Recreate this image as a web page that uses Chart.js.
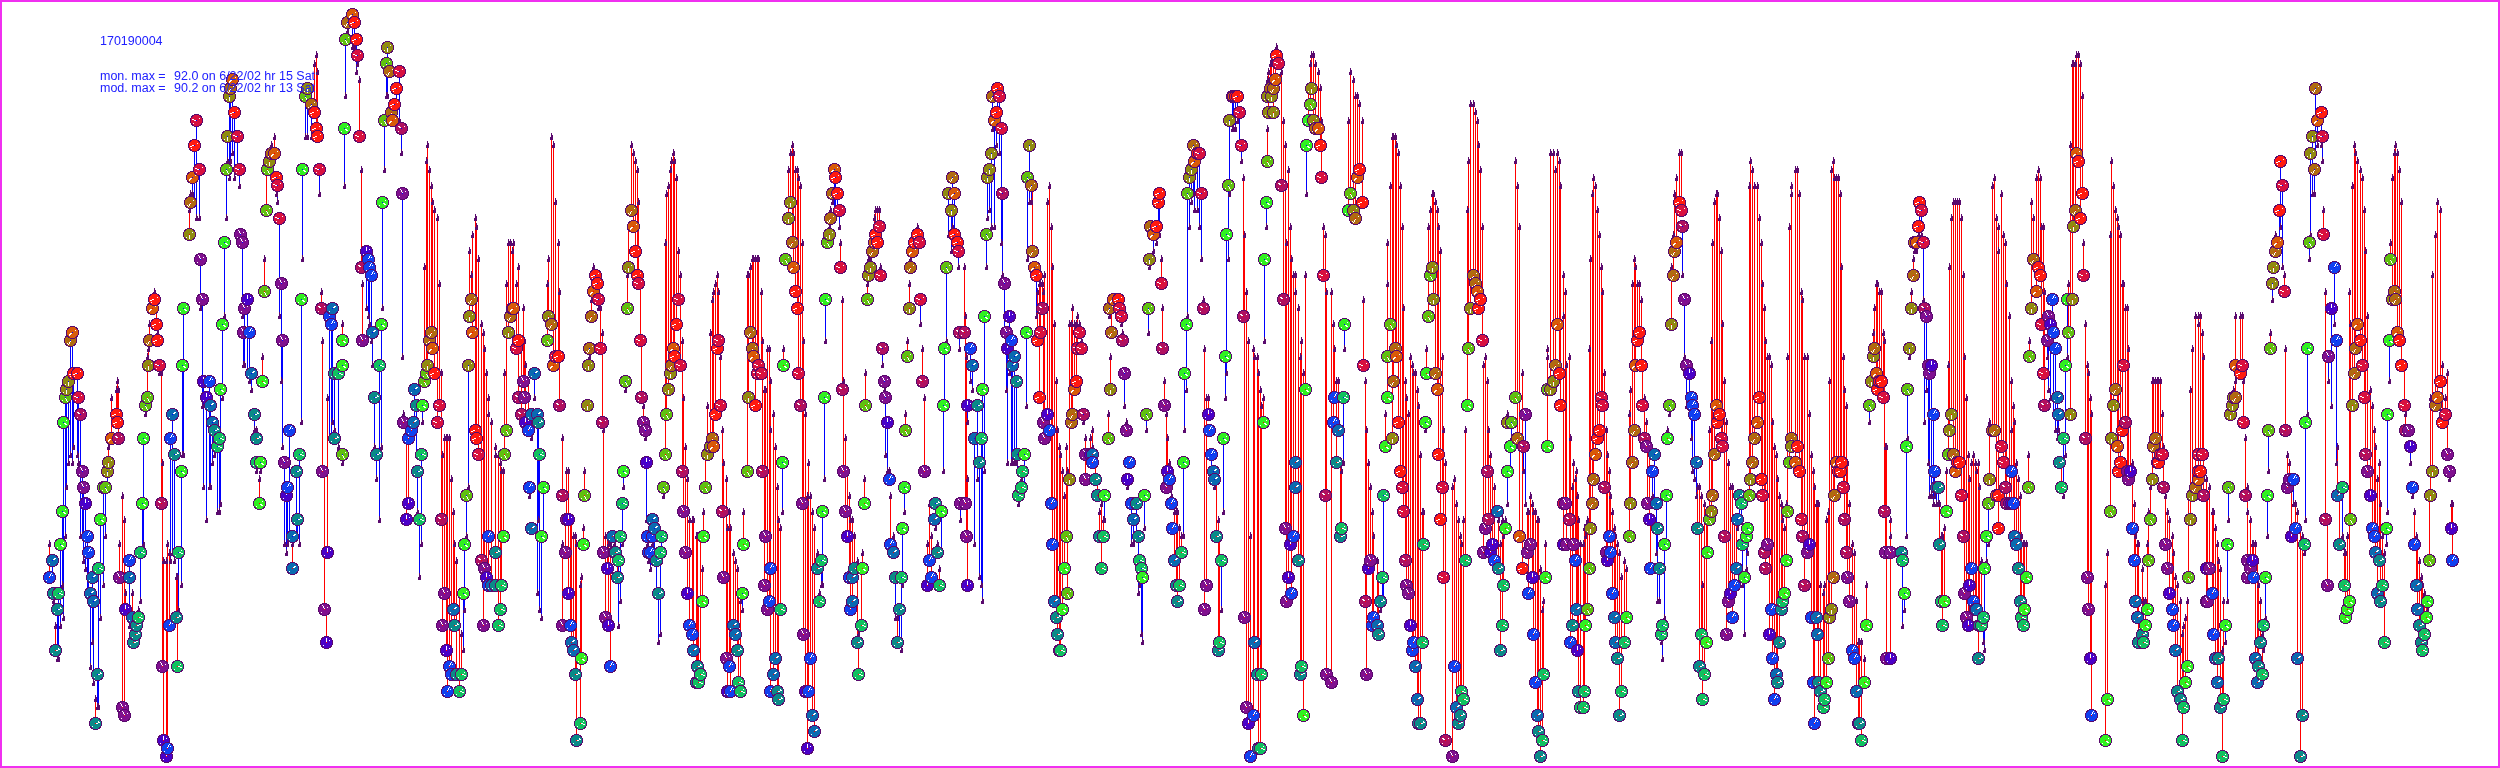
<!DOCTYPE html>
<html><head><meta charset="utf-8">
<script src="https://cdn.jsdelivr.net/npm/chart.js@4"></script>
<style>html,body{margin:0;padding:0;background:#fff}canvas{display:block}</style>
</head><body><canvas id="c" width="2500" height="768"></canvas>
<script>
const stationId="170190004";
const summaryLabels=["mon. max =","mod. max ="];
const summaryValues=["92.0 on 6/22/02 hr 15 Sat","90.2 on 6/22/02 hr 13 Sat"];

const hoursA=[55,49,52,53,58,57,60,62,63,65,
66,68,70,72,73,77,78,80,82,83,
85,87,88,92,90,93,97,95,98,100,
103,105,107,108,118,116,117,111,122,124,
119,129,129,125,132,138,136,135,133,143,
142,140,154,152,156,149,157,148,159,161,
147,145,183,182,181,178,172,170,174,176,
177,169,162,163,167,166,196,194,199,192,
190,189,200,202,203,209,206,210,212,214,
219,217,220,222,224,226,229,230,232,234,
237,227,239,240,242,244,247,249,243,251,
254,256,256,260,259,262,264,267,266,269,
271,274,276,277,279,281,282,284,286,287,
289,292,292,297,296,299,301,302,305,307,
311,314,316,317,319,321,322,327,324,326,
332,329,331,334,334,338];
const monA=[14,23,25,21,21,19,27,31,42,45,
46,47,52,53,48,48,45,43,36,34,
32,28,26,23,21,20,11,5,24,30,
34,34,36,37,40,43,42,40,7,6,
23,25,23,19,18,18,17,16,15,40,
32,26,57,56,54,52,52,49,49,32,
45,44,56,49,36,26,43,40,38,18,
12,17,12,3,2,1,79,76,73,72,
69,65,62,57,47,47,45,44,42,41,
40,39,46,54,64,73,82,83,84,80,
77,77,73,65,64,56,57,53,53,48,
43,40,37,37,32,47,58,73,68,74,
75,75,72,71,67,59,52,37,33,34,
41,28,24,30,36,38,57,73,82,83,
81,80,78,77,73,56,36,26,19,15,
56,55,54,48,40,48];
const modA=[17,27,23,20,13,13,17,22,18,28,
34,37,38,37,39,38,37,28,28,25,
24,21,20,15,12,10,7,8,7,18,
22,28,34,39,46,46,47,45,33,30,
27,18,17,21,21,19,18,17,17,27,
26,20,58,57,56,54,53,51,48,48,
50,43,38,38,22,19,26,25,25,23,
23,26,37,25,27,25,67,69,67,70,
70,68,56,44,34,34,30,34,37,38,
31,31,32,45,55,67,72,74,75,72,
73,74,71,64,55,49,48,47,49,46,
41,41,36,36,35,50,62,74,73,75,
76,77,70,69,55,47,39,27,26,27,
28,27,28,28,28,27,42,62,77,77,
77,86,87,85,70,58,52,45,36,19,
42,40,40,41,40,39];
const colA=`tbctetgggy llaorrkmpp nbbccctteg yyllmrropp pbcncetttg
gerorarlkm yygggecbtt ebpnbnkrko alppnbncct eegggylaor
klkpppnbpc ttegggyyyl aorkkpppnb bccttegg yl arrrkmpnpn cbbtte`;

const hoursB=[342,342,342,352,347,354,356,345,357,344,
359,387,386,389,399,396,394,391,392,384,
401,382,402,361,366,368,369,371,362,372,
381,379,374,376,403,413,411,408,406,408,
414,416,422,421,417,419,424,426,427,429,
431,432,434,437,439,441,444,442,446,449,
451,447,453,454,456,459,461,463,464,466,
468,469,471,472,475,476,478,481,483,484,
486,488,488,491,495,495,498,500,501,503,
504,506,508,510,513,512,518,516,523,518,
524,521,525,528,531,537,538,539,534,529,
543,531,541,547,548,551,553,555,558,559,
562,566,568,565,568,562,570,571,573,575,
581,583,584,587,588,589,591,593,595,597,
598,600,602,580,576,603,605,607,608,610,
612,614,615,617,618,620,622,623,625,627,
628,631,633,635,637,638,640,641,643,645,
646,647,648];
const monB=[52,49,38,92,91,91,89,89,87,78,
77,88,86,85,85,83,81,80,79,79,
78,69,70,61,63,62,61,60,52,53,
54,49,45,38,42,42,41,40,30,32,
46,44,44,38,36,30,47,48,49,52,
53,51,48,42,44,30,21,17,14,12,
11,9,19,17,11,9,11,21,27,33,
49,55,57,53,41,40,38,25,17,24,
23,22,28,22,26,22,17,19,22,28,
38,41,53,55,56,56,52,51,47,45,
45,43,42,41,43,43,42,38,48,34,
34,29,28,52,55,54,49,50,50,44,
33,30,30,26,21,17,17,15,14,11,
13,27,33,44,49,51,55,58,60,59,
57,51,42,5,3,26,18,24,17,12,
28,26,26,23,25,28,32,36,47,56,
61,68,66,63,60,59,52,45,42,41,
37,28,26];
const modB=[54,48,37,88,90,88,85,82,86,71,
84,82,82,86,79,80,79,81,79,73,
75,56,50,73,56,55,54,52,59,49,
39,30,39,35,43,42,42,42,40,40,
41,38,42,27,31,23,61,74,76,73,
71,69,68,67,59,48,40,38,40,40,
35,40,31,27,25,21,16,14,19,28,
34,63,60,65,67,66,62,54,53,51,
48,45,43,42,39,38,38,37,36,36,
48,59,64,64,64,63,61,59,56,56,
52,52,49,47,40,21,30,19,45,33,
28,29,18,59,62,77,76,69,64,58,
40,36,36,30,30,27,30,30,28,28,
23,29,36,44,49,50,57,61,59,58,
56,56,53,22,27,41,28,28,27,27,
28,27,28,25,17,20,27,34,46,60,
66,76,75,74,73,69,60,52,44,40,
30,27,25];
const colB=`ggyoarrykg klyakrraoy mgpmnbbbpc gettpcbbnn ctgeteyyla
aorkkmppnb bbctteeggy llaorrkmpp nbbctteeeg yylaoorkpm
pmnbcctecb gcgylaokrm mpnpnpbcct ggyllaaorr kkmetppnnb
ctttee egyy laorrkkmpp nbb`;

const hoursC=[652,654,652,650,661,660,656,658,665,666,
668,670,671,673,674,676,678,680,682,683,
685,687,689,692,693,697,700,696,698,702,
703,705,663,707,710,712,713,715,720,717,
718,722,723,726,729,727,730,733,735,737,
738,740,742,743,747,748,750,752,753,755,
758,757,761,762,765,764,767,769,770,775,
773,770,777,778,780,782,783,785,788,790,
792,793,795,797,798,800,802,803,805,808,
810,807,812,814,817,821,819,822,824,825,
840,827,829,830,834,835,832,837,839,842,
843,845,847,849,852,854,852,850,862,861,
857,858,864,865,867,882,884,885,887,889,
890,893,895,901,899,897,902,870,868,872,
874,875,877,879,880,904,905,907,909,910,
912,914,917,919,920,922,924,927,929,931,
934,935,937,939,941,943,944,946,948,951,
952,954,954,957,958,959,960];
const monC=[30,29,28,26,28,26,25,21,38,43,
46,48,49,51,50,54,57,49,36,31,
26,21,17,16,14,12,11,10,10,20,
28,34,34,38,39,40,39,43,44,51,
52,31,23,13,12,9,9,17,16,14,
10,9,21,27,36,45,53,51,50,44,
49,48,48,36,28,22,19,20,24,13,
11,9,9,8,19,37,49,62,67,69,
64,61,58,56,48,44,32,16,9,9,
13,2,6,4,24,25,20,31,45,57,
61,64,65,67,73,72,70,70,68,46,
36,31,28,23,23,24,20,19,24,17,
15,11,32,44,57,51,47,45,42,35,
27,26,23,23,19,15,29,61,60,63,
64,65,64,66,60,34,41,50,56,61,
63,64,65,64,57,47,36,22,25,23,
30,32,26,22,31,44,51,61,70,68,
72,70,65,64,63,53,32];
const modC=[27,26,25,24,25,16,21,15,64,70,
71,73,74,75,74,72,63,60,52,45,
39,35,30,30,30,28,28,28,20,24,
31,38,33,44,53,57,58,59,50,60,
58,41,37,35,31,29,29,26,25,24,
21,20,19,31,60,60,61,62,62,62,
62,62,58,52,46,46,51,51,47,39,
43,41,34,30,29,31,51,62,73,75,
76,75,73,73,72,71,64,52,43,37,
33,33,31,29,26,22,21,22,35,52,
64,65,66,68,68,67,69,68,66,57,
47,40,36,33,30,28,28,30,26,24,
25,16,35,48,59,49,46,38,36,36,
33,28,18,14,15,18,22,62,62,65,
67,68,68,68,61,31,43,52,59,62,
64,65,66,65,54,51,45,27,32,28,
30,29,27,24,26,36,44,52,65,63,
66,65,64,63,61,51,30];
const colC=`ccbbeettyy llaorrkkmp pnbbctetEg gyyllaorkr kmppbnbcct
eeggylaaor kkkmpppbbc cbtteggyll aorrkmppnb bnccteeggg
kylaorarkm ppnbctcbge tegyymppnb bctettglla orrkkgyyla
orrkkmpnbb cttegggyll aorrkmp`.replace('E','e');

const hoursD=[997,999,992,996,994,1001,991,989,987,1002,
986,1004,984,1009,1006,1011,1007,1014,1012,1016,
982,977,967,970,972,974,981,979,964,965,
966,967,1017,1024,1022,1021,1018,1029,1027,1031,
1032,1034,1036,1037,1040,1042,1039,1026,1047,1043,
1044,1049,1051,1052,1054,1056,1057,1059,1060,1062,
1064,1067,1066,1069,1072,1071,1074,1076,1077,1081,
1079,1083,1085,1090,1092,1092,1085,1095,1097,1104,
1103,1101,1099,1108,1110,1111,1109,1113,1118,1119,
1121,1122,1124,1126,1129,1127,1133,1136,1131,1144,
1138,1139,1141,1142,1146,1148,1149,1150,1153,1156,
1158,1159,1161,1162,1164,1166,1167,1169,1171,1172,
1174,1176,1177,1179,1181,1183,1184,1186,1187,1189,
1191,1193,1194,1197,1199,1201,1203,1204,1206,1208,
1209,1211,1213,1214,1216,1218,1219,1221,1223,1225,
1226,1228,1229,1232,1233,1235,1237,1239,1241,1243,
1244,1246,1248,1250,1253,1254,1257,1258,1260,1261,
1263,1264,1266,1267,1268,1267,1270];
const monD=[83,82,82,80,79,78,75,73,72,70,
65,59,55,55,53,52,51,50,49,47,
46,44,44,51,49,40,40,37,53,32,
28,22,38,38,36,34,33,76,72,71,
63,61,60,52,53,56,45,53,43,42,
40,41,32,27,20,18,16,14,14,19,
24,21,28,35,43,42,46,47,51,51,
53,43,38,38,38,37,35,35,33,33,
28,24,28,40,46,53,56,57,57,56,
55,52,48,41,37,35,30,32,32,33,
28,25,24,23,43,56,62,66,65,66,
69,70,59,51,44,34,36,35,32,29,
25,22,20,22,26,37,48,54,70,72,
73,76,74,75,75,70,56,19,22,43,
41,38,36,35,28,14,15,25,40,50,
65,71,79,82,82,82,82,80,76,55,
18,7,5,1,6,15,11,2,2,11,
42,62,69,74,80,82,83];
const modD=[80,75,78,76,66,64,66,68,67,60,
61,53,36,48,46,37,37,37,37,37,
20,35,42,47,46,27,22,23,61,55,
50,35,36,34,36,35,32,69,62,69,
71,60,55,58,59,59,59,44,69,58,
60,71,66,61,54,47,41,39,38,36,
33,36,39,54,56,54,54,54,55,52,
54,42,40,40,39,41,38,38,35,30,
30,32,31,43,50,56,55,56,56,55,
54,53,44,42,37,34,27,28,27,29,
21,22,16,15,41,53,61,65,63,64,
65,65,62,56,47,43,40,37,33,29,
31,31,31,29,28,28,41,46,55,66,
69,70,68,68,66,62,57,51,45,45,
41,36,35,34,36,30,28,19,31,45,
48,62,70,78,78,78,79,76,74,72,
65,58,52,28,51,50,50,48,46,44,
45,52,66,78,85,84,86];
const colD=`rkarokolllm`.replace('okol','okl')+`
ypgnpbncct gtnbccetmp pntgeeelya aorrkmrgnp
pbbbctttEg gyylaaorkk kmpncbpttg eetylaaork kmppbnctbg
teegyylaor rrkmppnbbb ctteeggg yl laorkkmppn bbcctteegg
gylaorrkkm ppnbbcttee ggg yll a`.replace('E','e');

const hoursE=[1273,1275,1273,1271,1276,1278,1281,1283,1285,1293,
1290,1288,1286,1291,1295,1295,1298,1301,1300,1303,
1305,1306,1308,1310,1311,1313,1315,1318,1320,1321,
1323,1325,1326,1331,1333,1334,1338,1336,1340,1341,
1343,1344,1348,1350,1353,1355,1357,1359,1362,1363,
1365,1366,1368,1370,1372,1373,1377,1378,1380,1382,
1383,1385,1387,1387,1390,1392,1393,1395,1396,1398,
1400,1402,1403,1405,1406,1408,1410,1412,1413,1415,
1417,1418,1420,1422,1423,1425,1426,1428,1430,1432,
1433,1435,1437,1438,1440,1442,1443,1445,1452,1454,
1456,1458,1460,1461,1463,1465,1467,1468,1470,1473,
1475,1477,1478,1480,1482,1487,1485,1483,1488,1490,
1492,1494,1497,1498,1500,1502,1503,1505,1507,1510,
1511,1507,1515,1517,1519,1522,1523,1525,1527,1530,
1528,1532,1533,1535,1537,1538,1540,1542,1543,1545,
1547,1547,1550,1553,1555,1557,1559,1560,1563,1565,
1569,1563,1566,1573,1575,1576,1572,1570,1577,1578,
1580];
const monE=[83,84,80,82,87,86,71,57,29,28,
27,23,20,21,37,34,25,12,11,6,
46,76,79,81,83,79,78,78,76,72,
60,33,11,10,42,45,41,37,28,29,
45,54,68,70,68,67,72,73,69,49,
20,11,24,25,17,18,17,16,20,23,
33,39,45,50,54,40,47,51,50,42,
36,34,31,25,22,21,17,14,15,12,
8,5,5,15,27,42,48,55,60,61,
57,48,46,38,30,34,23,3,1,12,
7,5,6,9,8,25,44,51,56,60,
59,58,56,57,52,36,29,26,30,26,
27,25,31,24,14,17,22,29,36,39,
42,42,45,40,28,24,39,43,26,27,
21,23,16,10,6,4,1,3,11,23,
39,46,46,47,49,54,48,44,32,32,
30,27,27,27,25,19,17,15,14,9,
7];
const modE=[86,87,87,86,88,87,85,79,76,60,
66,73,64,62,60,58,56,52,50,48,
60,70,83,86,87,87,86,85,83,79,
66,65,58,58,54,51,47,47,37,36,
37,51,79,85,84,82,82,81,79,57,
47,41,37,34,31,28,25,23,19,20,
20,43,59,64,71,77,77,77,76,75,
71,66,56,47,45,43,50,49,48,48,
46,44,38,31,31,41,51,66,68,70,
70,69,68,66,63,50,41,37,34,35,
32,30,28,27,30,41,68,74,81,81,
80,79,76,73,66,47,50,49,41,38,
36,34,31,30,27,30,28,30,32,36,
40,43,74,71,66,48,36,32,31,33,
31,32,31,31,30,30,24,19,20,27,
50,51,75,75,73,75,74,71,60,58,
50,55,49,37,35,36,34,40,33,30,
27];
const colE=`aollrkmmpb nnpbcctetg gggyllaork k`.replace(/ k$/,'k')+`
mppbbcttee ggylaorrkm pnpbbcttee ggyylaaorr kkmppnbbcc
tteeggyyll aorrkkmpbc tteeegylaa orrkmppmnn bcttee gggy
lyaormpppb nbbctteegg yllaorrkpm nppbctbnte e`;

const hoursF=[1587,1585,1584,1583,1589,1590,1592,1593,1595,1597,
1599,1601,1602,1604,1606,1607,1609,1610,1612,1614,
1615,1617,1619,1621,1624,1626,1629,1630,1632,1634,
1635,1637,1639,1641,1642,1644,1646,1647,1649,1650,
1652,1654,1656,1657,1659,1661,1662,1664,1666,1667,
1669,1671,1673,1674,1676,1679,1681,1682,1684,1686,
1689,1691,1692,1694,1696,1697,1699,1701,1704,1702,
1706,1707,1709,1711,1712,1714,1716,1717,1719,1721,
1722,1724,1726,1728,1730,1732,1734,1736,1737,1739,
1741,1742,1744,1746,1747,1749,1750,1752,1754,1757,
1759,1761,1762,1764,1765,1767,1769,1771,1772,1776,
1777,1774,1779,1781,1782,1784,1786,1787,1789,1791,
1791,1795,1797,1799,1801,1802,1804,1807,1809,1811,
1813,1814,1816,1817,1818,1820,1823,1824,1826,1828,
1829,1831,1833,1834,1836,1838,1840,1841,1843,1844,
1846,1847,1849,1852,1854,1856,1858,1859,1861,1864,
1866,1869,1871,1873,1874,1876,1877,1879,1881,1883,
1884,1885,1886];
const monF=[19,17,9,7,24,29,32,35,38,40,
41,45,44,34,26,25,28,26,21,18,
15,13,6,9,15,18,28,32,37,41,
49,52,53,49,44,40,39,32,30,24,
36,38,32,29,24,16,17,27,33,40,
44,54,60,63,64,69,68,66,57,49,
48,45,44,43,37,29,12,16,11,8,
15,26,30,31,33,38,44,42,43,40,
39,28,16,20,21,18,22,24,30,33,
32,27,23,28,29,33,35,37,40,42,
45,35,33,26,24,27,16,19,13,11,
10,8,15,19,20,21,25,31,37,40,
39,37,39,36,30,28,22,26,27,18,
10,5,18,16,10,9,7,8,10,13,
18,19,23,33,37,36,36,37,34,30,
26,23,20,14,13,9,5,5,3,10,
17,44,47,50,51,48,46,47,47,45,
31,26,13];
const modF=[30,28,29,27,51,62,70,72,71,68,
65,61,58,48,41,38,36,33,31,29,
28,27,26,23,25,24,43,46,59,62,
61,59,59,57,49,45,42,40,39,30,
33,32,26,20,20,15,13,18,27,41,
43,61,65,70,72,75,75,60,50,44,
43,40,36,35,33,34,34,33,32,22,
30,30,41,52,64,69,70,70,67,63,
54,47,42,37,34,34,30,30,29,30,
30,22,16,24,26,71,74,73,71,71,
67,64,59,56,52,50,50,49,42,38,
35,39,33,32,30,29,32,50,66,71,
70,73,73,70,58,57,50,50,43,38,
36,34,32,32,32,22,21,22,30,31,
47,73,74,72,72,72,70,61,50,46,
44,37,32,27,26,20,15,15,15,13,
22,42,48,53,56,59,59,58,58,53,
52,39,39];
const colF=`ygeeylaaor rkkmpnbbbc ctteegylaa orrrkmppnb bcctteeggg
ylaaorkmpp nbbbctteee ggylaaorrk kmppnbbcct eegggylaao
rrkmmpnbbc tbtteggyya lorrkmmpnb bbcctteegy llaaorrrkm
mppbbctteg gyllaorrrk mpp`;

const hoursG=[1890,1890,1901,1902,1904,1906,1907,1909,1911,1913,
1914,1916,1918,1919,1921,1923,1924,1926,1928,1929,
1931,1933,1934,1936,1938,1939,1941,1942,1944,1946,
1948,1949,1951,1953,1955,1957,1959,1961,1963,1964,
1966,1968,1969,1971,1973,1975,1976,1978,1979,1981,1983,
1984,1986,1988,1989,1992,1994,1996,1998,1998,2001,
2003,2005,2006,2009,2011,2013,2011,2014,2016,2018,
2020,2021,2023,2024,2026,2028,2029,2031,2033,2036,
2038,2040,2041,2043,2044,2047,2048,2050,2052,2053,
2055,2057,2058,2059,2061,2063,2065,2067,2068,2070,
2072,2073,2075,2076,2078,2080,2082,2083,2085,2087,
2088,2090,2091,2105,2107,2110,2111,2113,2115,2117,
2118,2120,2122,2123,2125,2127,2128,2130,2132,2134,
2135,2137,2138,2142,2143,2145,2147,2148,2150,2152,
2153,2155,2157,2158,2160,2162,2163,2165,2167,2169,
2172,2173,2175,2177,2180,2183,2182,2185,2187,2188,
2190,2192,2195,2198,2198,2198];
const monG=[13,26,26,25,21,39,46,51,56,60,
64,64,66,69,68,64,56,55,49,48,
49,43,36,34,34,27,20,17,20,31,
38,41,43,38,36,37,37,33,28,21,
18,17,22,24,20,19,19,13,17,17,18,
24,28,32,35,41,41,33,33,29,39,
37,34,32,32,32,32,36,28,27,24,
20,18,17,19,23,34,50,56,62,58,
61,60,54,48,44,52,55,54,57,53,
51,45,43,37,34,40,49,57,53,43,
57,66,68,75,74,67,70,60,40,23,
19,13,6,3,8,31,40,44,46,39,
36,37,41,49,42,36,35,36,29,25,
20,18,15,16,15,17,19,25,30,35,
39,40,37,37,38,38,34,27,24,21,
19,17,14,9,8,7,3,10,12,23,
30,33,34,35,36,38];
const modG=[30,28,25,17,19,28,40,50,58,62,
63,63,65,66,65,57,42,46,37,33,
33,32,33,32,32,32,28,28,29,36,
49,61,67,69,69,69,69,67,60,50,
45,38,35,37,38,37,36,37,34,25,15,
14,25,27,42,71,72,67,66,63,70,
65,64,59,55,47,44,41,42,37,35,
33,28,27,27,27,38,52,69,67,72,
73,72,66,66,58,50,46,45,52,43,
41,40,41,37,37,33,38,50,59,76,
86,86,86,87,87,86,82,64,54,49,
48,45,43,22,26,65,74,71,68,67,
66,65,59,59,56,56,51,42,37,32,
28,27,27,24,20,20,27,31,34,47,
47,47,47,47,47,43,39,33,31,30,
28,26,23,22,20,17,16,18,20,33,
46,51,55,55,55,54];
const colG=`nptegg ylla aorrkkmppp nbbctteegg yllaorrkmp
pnnbbcctte e ggylaaorrk kmmpnbbcct teeggyylao
rrkkmppnbb bcctee ggyl llaorrrkmp pnbggyllao
rrrkmppnbb cctteggyyl aaorrkmppn bbcttee ggy
llaork`;

const hoursH=[2202,2200,2203,2206,2209,2206,2207,2212,2213,2215,
2218,2217,2220,2223,2222,2225,2227,2228,2230,2232,
2233,2235,2235,2240,2242,2243,2245,2247,2247,2250,
2252,2253,2255,2257,2258,2260,2262,2263,2265,2267,
2268,2270,2272,2273,2275,2277,2279,2280,2282,2284,
2285,2287,2289,2291,2293,2295,2297,2300,2302,2304,
2305,2307,2309,2310,2312,2314,2315,2317,2321,2322,
2323,2325,2327,2328,2331,2334,2336,2337,2339,2342,
2344,2345,2347,2349,2350,2352,2354,2355,2357,2360,
2362,2364,2365,2367,2370,2372,2374,2375,2379,2377,
2380,2382,2384,2386,2387,2389,2390,2392,2394,2395,
2397,2399,2401,2404,2405,2408,2410,2412,2414,2416,
2417,2419,2421,2422,2424,2426,2427,2429,2430,2432,
2435,2437,2440,2442,2445,2447,2449,2451,2452];
const monH=[38,36,33,24,24,20,20,21,16,13,
13,10,7,8,1,17,27,34,43,44,
45,45,49,48,49,42,33,25,23,24,
25,23,13,10,12,15,11,17,23,33,
41,51,59,61,63,64,68,74,71,58,
41,34,35,28,35,29,13,1,6,27,
42,51,64,75,77,73,83,79,80,77,
65,30,22,50,56,61,52,33,27,34,
22,18,19,20,30,44,48,51,54,52,
49,45,38,36,33,29,28,26,25,21,
20,22,15,29,43,52,62,57,58,57,
53,52,49,44,41,41,39,34,27,22,
19,17,15,14,16,18,20,25,33,36,
44,45,47,42,43,38,36,29,25];
const modH=[53,55,50,35,34,33,33,31,31,29,
25,27,24,20,14,15,20,30,44,45,
46,47,55,55,55,47,40,34,31,30,
27,27,27,25,22,20,16,14,18,28,
36,53,57,61,65,64,63,66,61,60,
51,38,37,34,32,32,31,29,28,26,
30,43,62,65,70,70,75,76,76,74,
68,58,30,47,44,54,37,39,33,28,
26,26,28,58,54,71,76,75,74,73,
72,68,63,55,46,44,41,39,37,35,
32,28,26,27,31,47,64,72,75,76,
75,73,69,49,43,41,37,33,31,28,
27,25,23,22,21,20,19,33,45,60,
65,69,68,49,45,48,35,32,32];
const colH=`krmnpppbbc tctee ggyll laorkkmppp nbcctteegg
yyllaorrkk mppnbbctte ggyllaaork kmppnbbcte
egggylaaor kkmpnbbctc teegggylaa orrkmpnbbc
ctteeggyll aorrkppnb`;

/* ---------- assemble ---------- */
const hourBlocks=[hoursA,hoursB,hoursC,hoursD,hoursE,hoursF,hoursG,hoursH];
const hours=hourBlocks.flat();
const monitored=[monA,monB,monC,monD,monE,monF,monG,monH].flat();
const modeled=[modA,modB,modC,modD,modE,modF,modG,modH].flat();
const blockCols=[colA,colB,colC,colD,colE,colF,colG,colH].map(s=>s.replace(/\s/g,''));
const hourClass=[];
blockCols.forEach((s,b)=>{const n=hourBlocks[b].length;
  if(s.length!==n)console.error('colour block',b,s.length,n);
  for(let i=0;i<n;i++)hourClass.push(s[i]||s[s.length-1]);});

const swatch={p:'#80108f',n:'#4a00c8',b:'#1040f0',c:'#0a6ab0',t:'#0a8a88',e:'#10c060',g:'#30f020',
 y:'#60c010',l:'#908a10',a:'#b06a10',o:'#d85a08',r:'#ff1a10',k:'#d81040',m:'#b01060'};
const classOrder='nbctegylaorkmp';
const edge='#5a0a6e';

function circleSprite(cls,up){
  const s=document.createElement('canvas');s.width=15;s.height=15;
  const g=s.getContext('2d');const c=7;
  for(let y=0;y<15;y++)for(let x=0;x<15;x++){
    const d=Math.hypot(x-c,y-c);
    if(d<=6.6){g.fillStyle=d>5.6?edge:swatch[cls];g.fillRect(x,y,1,1);}
  }
  const a=classOrder.indexOf(cls)/classOrder.length*2*Math.PI;
  g.fillStyle='#ffffff';
  for(let r=1;r<=4;r++){g.fillRect(Math.round(c+Math.sin(a)*r),Math.round(c-Math.cos(a)*r),1,1);}
  g.fillRect(c-3,c+3,1,1);g.fillRect(c+3,c-2,1,1);
  g.fillStyle=up?'#ff0000':'#0000ff';g.fillRect(c,c,1,1);
  return s;
}
function markSprite(){
  const s=document.createElement('canvas');s.width=4;s.height=8;
  const g=s.getContext('2d');g.fillStyle=edge;
  g.fillRect(1,0,1,2);g.fillRect(1,2,2,3);g.fillRect(0,4,3,3);
  return s;
}
const sprites={};
function spriteFor(i){const up=modeled[i]>=monitored[i];const k=hourClass[i]+(up?'u':'d');
  return sprites[k]||(sprites[k]=circleSprite(hourClass[i],up));}

const order=hours.map((_,i)=>i).sort((a,b)=>hours[a]-hours[b]);
const redStem=[],blueStem=[],marks=[],circles=[],circleStyle=[];
order.forEach(i=>{
  const t=modeled[i]>=monitored[i]?redStem:blueStem;
  t.push({x:hours[i],y:monitored[i]},{x:hours[i],y:modeled[i]},{x:hours[i],y:NaN});
  marks.push({x:hours[i],y:modeled[i]});
  circles.push({x:hours[i],y:monitored[i]});
  circleStyle.push(spriteFor(i));
});
const markImage=markSprite();

const decor={id:'decor',
  beforeDatasetsDraw(ch){ch.ctx.imageSmoothingEnabled=false;},
  afterDraw(ch){
    const g=ch.ctx;g.save();
    g.strokeStyle='#f030f0';g.lineWidth=2;g.strokeRect(1,1,2498,766);
    g.fillStyle='#2020ff';g.font='12.5px "Liberation Sans"';g.textBaseline='alphabetic';
    g.fillText(stationId,100,45);
    g.fillText(summaryLabels[0],100,80);g.fillText(summaryValues[0],174,80);
    g.fillText(summaryLabels[1],100,92);g.fillText(summaryValues[1],174,92);
    g.restore();
  }};

const stemOpts={type:'line',borderWidth:1,pointRadius:0,spanGaps:false,tension:0,clip:false};
new Chart(document.getElementById('c'),{
  type:'scatter',
  data:{datasets:[
    {...stemOpts,label:'model above monitor',data:redStem,borderColor:'#ff0000',order:4},
    {...stemOpts,label:'monitor above model',data:blueStem,borderColor:'#0000ff',order:3},
    {label:'modeled',data:marks,pointStyle:markImage,pointRadius:4,showLine:false,order:2,clip:false},
    {label:'monitored',data:circles,pointStyle:circleStyle,pointRadius:7,showLine:false,order:1,clip:false}
  ]},
  options:{responsive:false,animation:false,
    layout:{padding:0,autoPadding:false},
    events:[],
    plugins:{legend:{display:false},title:{display:false},tooltip:{enabled:false}},
    scales:{
      x:{type:'linear',display:false,min:-0.5,max:2499.5},
      y:{type:'linear',display:false,min:-0.43,max:93.8}
    }},
  plugins:[decor]
});
</script>
</body></html>
